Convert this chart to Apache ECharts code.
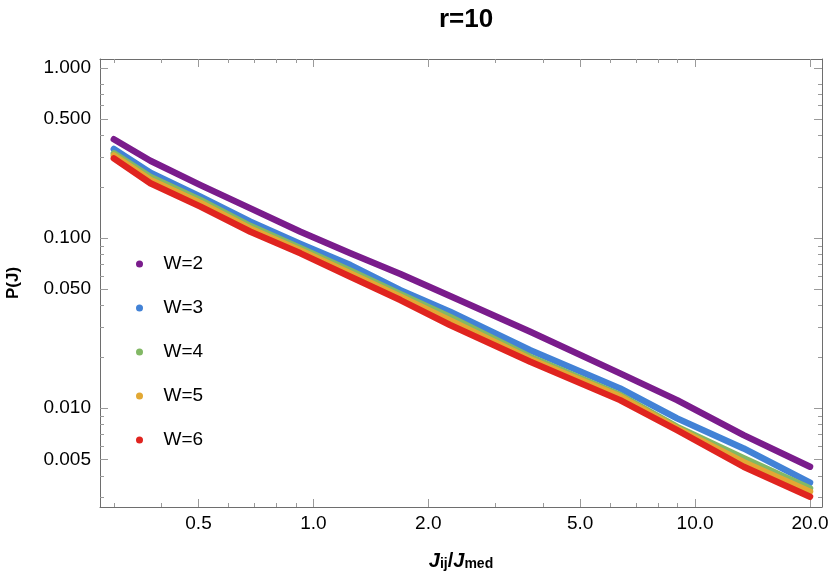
<!DOCTYPE html>
<html>
<head>
<meta charset="utf-8">
<script src="https://cdn.jsdelivr.net/npm/echarts@6/dist/echarts.min.js"></script>
<style>
html,body{margin:0;padding:0;background:#fff;}
#chart{width:831px;height:584px;}
</style>
</head>
<body>
<div id="chart"></div>
<script>
// ---- data ----
const xValues = [0.30, 0.374, 0.506, 0.684, 0.925, 1.25, 1.69, 2.28, 3.70, 6.36, 8.97, 13.4, 20.0];
const seriesNames = ['W=2', 'W=3', 'W=4', 'W=5', 'W=6'];
const w2 = [0.381, 0.285, 0.205, 0.1495, 0.1089, 0.0813, 0.0615, 0.0456, 0.0281, 0.0160, 0.01114, 0.00694, 0.00452];
const w3 = [0.334, 0.242, 0.175, 0.1247, 0.0922, 0.0694, 0.0494, 0.0369, 0.0219, 0.01306, 0.00870, 0.00579, 0.00364];
const w4 = [0.315, 0.229, 0.167, 0.1177, 0.0870, 0.0642, 0.0468, 0.0344, 0.0200, 0.01193, 0.00776, 0.00508, 0.00337];
const w5 = [0.306, 0.220, 0.161, 0.1136, 0.0844, 0.0619, 0.0452, 0.0328, 0.0194, 0.01169, 0.00760, 0.00481, 0.00322];
const w6 = [0.294, 0.210, 0.153, 0.1089, 0.0813, 0.0592, 0.0432, 0.0308, 0.01873, 0.01114, 0.00742, 0.00452, 0.00301];
const xMajorTicks = [0.5, 1, 2, 5, 10, 20];
const xMinorTicks = [0.3, 0.4, 0.6, 0.7, 0.8, 0.9, 3, 4, 6, 7, 8, 9];
const yMajorTicks = [0.005, 0.01, 0.05, 0.1, 0.5, 1];
const yMinorTicks = [0.003, 0.004, 0.006, 0.007, 0.008, 0.009, 0.02, 0.03, 0.04, 0.06, 0.07, 0.08, 0.09, 0.2, 0.3, 0.4, 0.6, 0.7, 0.8];
const colors = ['#7a1c8c', '#4282d6', '#82b865', '#e2a834', '#e0241f'];

const FONT = 'Liberation Sans, Arial, sans-serif';
const X_MIN = 0.276, X_MAX = 21.5, Y_MIN = 0.00262, Y_MAX = 1.13;

function xAx(pos, major, showLabel, showLine) {
  return {
    type: 'log', position: pos, min: X_MIN, max: X_MAX, logBase: 10,
    axisLine: {show: showLine, onZero: false, lineStyle: {color: '#6e6e6e', width: 1}},
    axisTick: {show: true, inside: true, length: major ? 8 : 4, customValues: major ? xMajorTicks : xMinorTicks,
               lineStyle: {color: '#9a9a9a', width: 1}},
    axisLabel: {show: showLabel, customValues: xMajorTicks, color: '#000', fontFamily: FONT, fontSize: 19, margin: 7,
                formatter: v => Number(v).toFixed(1)},
    splitLine: {show: false}, minorTick: {show: false}
  };
}
function yAx(pos, major, showLabel, showLine) {
  return {
    type: 'log', position: pos, min: Y_MIN, max: Y_MAX, logBase: 10,
    axisLine: {show: showLine, onZero: false, lineStyle: {color: '#6e6e6e', width: 1}},
    axisTick: {show: true, inside: true, length: major ? 8 : 4, customValues: major ? yMajorTicks : yMinorTicks,
               lineStyle: {color: '#9a9a9a', width: 1}},
    axisLabel: {show: showLabel, customValues: yMajorTicks, color: '#000', fontFamily: FONT, fontSize: 19, margin: 9,
                formatter: v => Number(v).toFixed(3)},
    splitLine: {show: false}, minorTick: {show: false}
  };
}

const xAxes = [xAx('bottom', true, true, true), xAx('bottom', false, false, false), xAx('top', true, false, true), xAx('top', false, false, false)];
xAxes[0].name = '{b|J}{s|ij}{n|/}{b|J}{s|med}';
xAxes[0].nameLocation = 'middle';
xAxes[0].nameGap = 40;
xAxes[0].nameTextStyle = {
  rich: {
    b: {fontFamily: FONT, fontSize: 20, fontWeight: 'bold', fontStyle: 'italic', color: '#000', lineHeight: 24, verticalAlign: 'bottom'},
    n: {fontFamily: FONT, fontSize: 20, fontWeight: 'bold', color: '#000', lineHeight: 24, verticalAlign: 'bottom'},
    s: {fontFamily: FONT, fontSize: 14, fontWeight: 'bold', color: '#000', lineHeight: 14, padding: [16, 0, 0, 0], verticalAlign: 'bottom'}
  }
};
const yAxes = [yAx('left', true, true, true), yAx('left', false, false, false), yAx('right', true, false, true), yAx('right', false, false, false)];
yAxes[0].name = 'P(J)';
yAxes[0].nameLocation = 'middle';
yAxes[0].nameRotate = 90;
yAxes[0].nameGap = 78;
yAxes[0].nameTextStyle = {fontFamily: FONT, fontSize: 17, fontWeight: 'bold', color: '#000'};

const allSeries = [w2, w3, w4, w5, w6].map((arr, i) => ({
  name: seriesNames[i], type: 'line', xAxisIndex: 0, yAxisIndex: 0,
  data: xValues.map((x, j) => [x, arr[j]]),
  showSymbol: false, symbol: 'circle', smooth: false,
  lineStyle: {color: colors[i], width: 6.5, cap: 'round', join: 'round'},
  itemStyle: {color: colors[i]},
  silent: true, animation: false, z: 2 + i
}));

const chart = echarts.init(document.getElementById('chart'), null, {renderer: 'canvas'});
chart.setOption({
  animation: false,
  backgroundColor: '#fff',
  title: {text: 'r=10', left: 461, textAlign: 'center', top: 2, textStyle: {fontFamily: FONT, fontSize: 26, fontWeight: 'bold', color: '#000'}},
  grid: {left: 100, right: 9, top: 59, bottom: 77, containLabel: false, outerBoundsMode: 'none'},
  legend: {
    orient: 'vertical', left: 131, top: 249, itemWidth: 38, itemHeight: 7, itemGap: 24,
    icon: 'circle', data: seriesNames,
    textStyle: {fontFamily: FONT, fontSize: 19, color: '#000', lineHeight: 20},
    selectedMode: false
  },
  xAxis: xAxes,
  yAxis: yAxes,
  series: allSeries
});
</script>
</body>
</html>
